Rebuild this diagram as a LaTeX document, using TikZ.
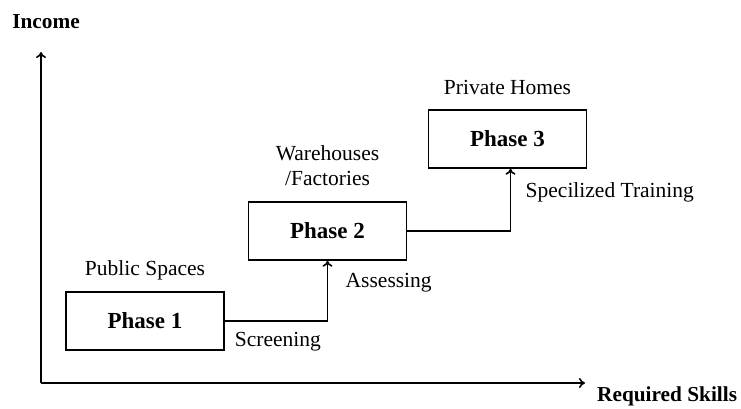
\documentclass[tikz,border=0pt]{standalone}
\usepackage{fontspec}
\setmainfont{Liberation Serif}
\usetikzlibrary{arrows.meta,positioning}
\tikzset{
  phasebox/.style={
    draw,
    line width=1.5pt,
    align=center,
    minimum height=58pt,
    minimum width=158pt,
    inner sep=4pt,
    font=\fontsize{23}{26}\selectfont\bfseries
  },
  steplabel/.style={
    inner sep=0pt,
    align=center,
    font=\fontsize{21.5}{25}\selectfont
  },
  axislabel/.style={
    inner sep=0pt,
    font=\fontsize{21.3}{24}\selectfont\bfseries
  },
  steparrow/.style={-{To[length=6pt,width=10pt]}, line width=1.6pt},
  axisarrow/.style={-{To[length=6pt,width=10pt]}, line width=1.6pt}
}

\begin{document}
\begin{tikzpicture}[x=1pt,y=1pt]
  \useasboundingbox (0,0) rectangle (741,408);

  % axes
  \coordinate (origin) at (41,25);
  \coordinate (ytop) at (41,356);
  \coordinate (xend) at (585,25);
  \draw[axisarrow] (origin) -- (ytop);
  \draw[axisarrow] (origin) -- (xend);
  \node[axislabel] (income) at (46,386) {Income};
  \node[axislabel, anchor=west] (skills) at (597,12) {Required Skills};

  % phases
  \node[phasebox] (phase1) at (145,87) {Phase 1};
  \node[phasebox] (phase2) at (327.5,177) {Phase 2};
  \node[phasebox] (phase3) at (507.5,269) {Phase 3};

  \node[steplabel, above=11pt of phase1] (public) {Public Spaces};
  \node[steplabel, above=15pt of phase2] (warehouse) {Warehouses\\/Factories};
  \node[steplabel, above=14pt of phase3] (homes) {Private Homes};

  % steps between phases
  \draw[steparrow] (phase1) -| (phase2);
  \draw[steparrow] (phase2.east) -| ([xshift=3pt]phase3.south);

  \node[steplabel, anchor=north west] (screening) at ([shift={(10pt,-11pt)}]phase1.east) {Screening};
  \node[steplabel, anchor=north west] (assessing) at ([shift={(18pt,-12pt)}]phase2.south) {Assessing};
  \node[steplabel, anchor=north west] (training) at ([shift={(18pt,-14pt)}]phase3.south) {Specilized Training};
\end{tikzpicture}
\end{document}
